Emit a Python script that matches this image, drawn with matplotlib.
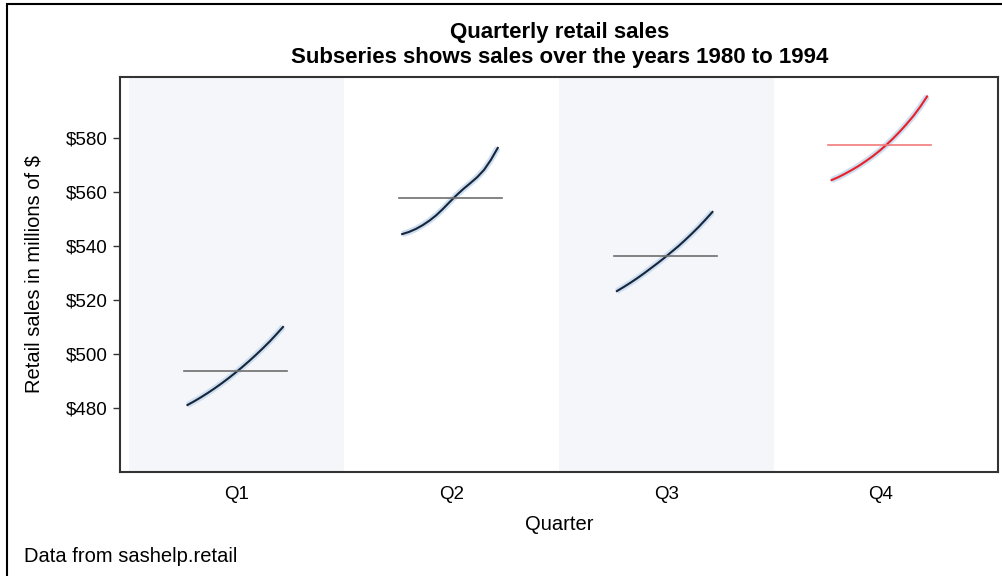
import matplotlib
matplotlib.use('Agg')
import matplotlib.pyplot as plt
import matplotlib.patches as patches
import numpy as np

plt.rcParams['font.family'] = ['Liberation Sans', 'DejaVu Sans']

quarters = ['Q1', 'Q2', 'Q3', 'Q4']
years = list(range(1980, 1995))

# smoothed sales per year (millions of $), one list per quarter
q1_sales = [481.1, 482.5, 484.0, 485.6, 487.3, 489.1, 491.0, 493.0,
            495.1, 497.3, 499.6, 502.0, 504.5, 507.2, 510.0]
q2_sales = [544.4, 545.2, 546.3, 547.7, 549.4, 551.4, 553.8, 556.4,
            558.9, 561.2, 563.3, 565.5, 568.2, 571.9, 576.3]
q3_sales = [523.3, 524.8, 526.4, 528.1, 529.9, 531.8, 533.7, 535.7,
            537.8, 539.9, 542.2, 544.6, 547.1, 549.8, 552.6]
q4_sales = [564.4, 565.5, 566.8, 568.2, 569.7, 571.4, 573.2, 575.2,
            577.4, 579.8, 582.4, 585.2, 588.2, 591.6, 595.4]
quarter_means = [493.7, 557.8, 536.3, 577.4]

series = [q1_sales, q2_sales, q3_sales, q4_sales]

fig = plt.figure(figsize=(10.02, 5.76), dpi=100)
ax = fig.add_axes([0.1198, 0.1806, 0.876, 0.6858])

# spread each quarter's years across part of its slot
offsets = np.linspace(-0.23, 0.215, len(years))

for i, (q, vals) in enumerate(zip(quarters, series)):
    pos = i + 1
    if i % 2 == 0:
        ax.axvspan(pos - 0.5, pos + 0.5, color='#f5f6fa', lw=0, zorder=0)
    last = (i == len(quarters) - 1)
    line_col = '#e8202a' if last else '#17253a'
    mean_col = '#f27a7a' if last else '#6e6e6e'
    xs = pos + offsets
    ax.plot(xs, vals, color='#cddff0', lw=4.5, solid_capstyle='butt', zorder=2)
    ax.plot(xs, vals, color=line_col, lw=1.5, zorder=3)
    ax.plot([pos - 0.245, pos + 0.235], [quarter_means[i]] * 2,
            color=mean_col, lw=1.2, zorder=4)

ax.set_xlim(0.456, 4.544)
ax.set_ylim(456.3, 602.6)
ax.set_xticks(range(1, 5))
ax.set_xticklabels(quarters, fontsize=13.5)
ax.set_yticks(range(480, 581, 20))
ax.set_yticklabels(['$%d' % v for v in range(480, 581, 20)], fontsize=13.5)
ax.tick_params(axis='x', length=0, pad=10)
ax.tick_params(axis='y', length=5, width=1, color='#333333', pad=4)
for s in ax.spines.values():
    s.set_color('#333333')
    s.set_linewidth(1.5)

ax.set_xlabel('Quarter', fontsize=14.5, labelpad=9)
ax.set_ylabel('Retail sales in millions of $', fontsize=14.5, labelpad=16)

fig.text(0.559, 0.944, 'Quarterly retail sales', ha='center', va='center',
         fontsize=16, fontweight='bold')
fig.text(0.559, 0.900, 'Subseries shows sales over the years 1980 to 1994',
         ha='center', va='center', fontsize=16, fontweight='bold')
fig.text(0.024, 0.034, 'Data from sashelp.retail', ha='left', va='center',
         fontsize=14.5)

# outer frame around the whole graph
fig.patches.append(patches.Rectangle((7 / 1002, -0.1), 1.2, 1.1 - 4 / 576,
                                     transform=fig.transFigure, fill=False,
                                     edgecolor='black', lw=1.5))

fig.savefig('out.png', dpi=100)
